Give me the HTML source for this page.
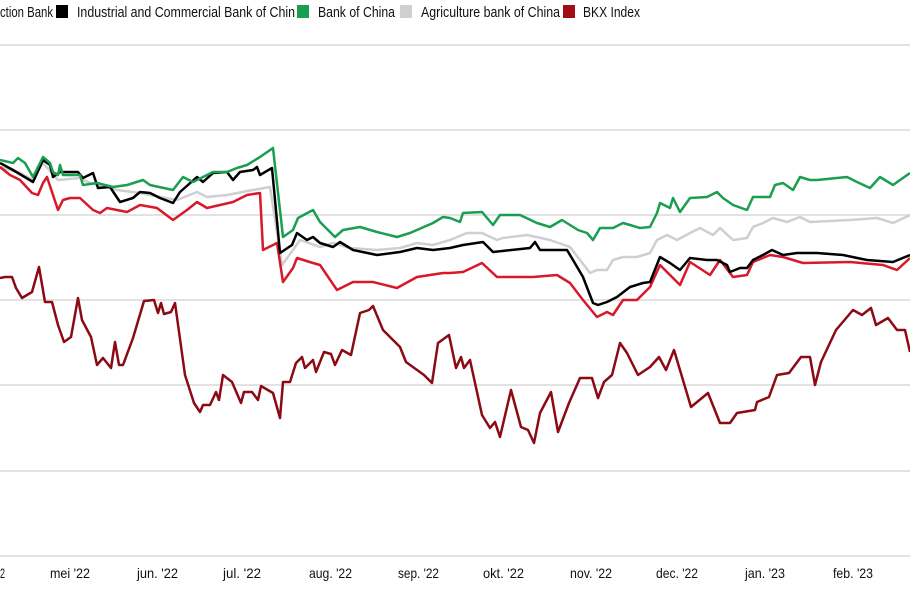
<!DOCTYPE html>
<html><head><meta charset="utf-8"><style>
html,body{margin:0;padding:0;background:#fff;}
svg{display:block;}
text{font-family:"Liberation Sans Narrow","Liberation Sans",sans-serif;fill:#111;}
</style></head><body>
<svg width="910" height="596" viewBox="0 0 910 596" xmlns="http://www.w3.org/2000/svg">
<g stroke="#e2e2e2" stroke-width="2">
<line x1="0" y1="45" x2="910" y2="45"/><line x1="0" y1="130" x2="910" y2="130"/>
<line x1="0" y1="215" x2="910" y2="215"/><line x1="0" y1="300" x2="910" y2="300"/>
<line x1="0" y1="385" x2="910" y2="385"/><line x1="0" y1="471" x2="910" y2="471"/>
<line x1="0" y1="556" x2="910" y2="556"/>
</g>
<g font-size="15">
<text x="0" y="17" textLength="53" lengthAdjust="spacingAndGlyphs">ction Bank</text>
<rect x="56" y="5" width="12" height="13" fill="#000"/>
<text x="77" y="17" textLength="218" lengthAdjust="spacingAndGlyphs">Industrial and Commercial Bank of Chin</text>
<rect x="297" y="5" width="12" height="13" fill="#1a9e4f"/>
<text x="318" y="17" textLength="77" lengthAdjust="spacingAndGlyphs">Bank of China</text>
<rect x="400" y="5" width="12" height="13" fill="#cfcfcf"/>
<text x="421" y="17" textLength="139" lengthAdjust="spacingAndGlyphs">Agriculture bank of China</text>
<rect x="563" y="5" width="12" height="13" fill="#a00d12"/>
<text x="583" y="17" textLength="57" lengthAdjust="spacingAndGlyphs">BKX Index</text>
</g>
<g font-size="14">
<text x="0" y="578" textLength="5" lengthAdjust="spacingAndGlyphs">2</text>
<text x="50" y="578" textLength="40" lengthAdjust="spacingAndGlyphs">mei '22</text>
<text x="137" y="578" textLength="41" lengthAdjust="spacingAndGlyphs">jun. '22</text>
<text x="223" y="578" textLength="38" lengthAdjust="spacingAndGlyphs">jul. '22</text>
<text x="309" y="578" textLength="43" lengthAdjust="spacingAndGlyphs">aug. '22</text>
<text x="398" y="578" textLength="41" lengthAdjust="spacingAndGlyphs">sep. '22</text>
<text x="483" y="578" textLength="41" lengthAdjust="spacingAndGlyphs">okt. '22</text>
<text x="570" y="578" textLength="42" lengthAdjust="spacingAndGlyphs">nov. '22</text>
<text x="656" y="578" textLength="42" lengthAdjust="spacingAndGlyphs">dec. '22</text>
<text x="745" y="578" textLength="40" lengthAdjust="spacingAndGlyphs">jan. '23</text>
<text x="833" y="578" textLength="40" lengthAdjust="spacingAndGlyphs">feb. '23</text>
</g>
<g fill="none" stroke-width="2.5" stroke-linejoin="round">
<polyline stroke="#8b0a14" points="0,278 5,277 12,277 16,288 22,298 32,292 39,267 45,302 52,302 58,325 64,342 71,337 78,298 82,320 91,337 97,365 103,358 111,368 115,342 119,365 123,365 133,338 144,301 154,300 158,313 161,303 164,314 171,312 175,303 185,375 194,403 200,412 203,405 210,405 216,392 219,400 223,375 232,382 241,403 244,392 252,392 258,400 261,386 273,393 280,418 283,382 290,382 296,363 302,357 305,368 313,360 316,372 324,352 331,354 335,365 342,350 351,355 360,313 369,310 373,306 383,330 400,347 406,362 424,375 432,383 438,343 449,335 456,368 461,357 464,368 470,360 482,415 490,428 495,422 500,437 511,390 521,427 528,430 534,443 540,413 551,392 558,432 569,403 580,378 592,378 598,398 604,382 612,375 620,343 627,353 638,375 650,367 659,357 666,370 674,350 691,407 708,393 720,423 730,423 737,413 755,410 757,402 769,397 777,375 789,373 801,357 810,357 815,385 821,362 836,330 853,310 862,315 871,308 876,325 888,318 897,330 905,330 910,352"/>
<polyline stroke="#cfcfcf" points="0,167 20,173 33,180 43,163 58,180 80,178 90,183 100,185 117,190 140,193 160,197 177,200 197,192 207,197 227,195 253,190 270,187 282,265 293,250 300,240 320,247 333,243 350,248 377,250 400,248 417,243 433,245 450,240 467,233 482,233 497,240 503,238 527,235 550,240 570,247 580,260 590,273 597,270 607,270 613,260 623,257 637,257 650,253 657,240 667,235 677,240 690,233 700,228 713,235 720,228 733,240 747,238 753,227 763,223 773,218 787,222 800,217 810,222 850,220 877,218 893,223 910,215"/>
<polyline stroke="#d7192a" points="0,167 10,175 20,180 32,193 38,195 43,183 47,177 58,210 63,200 70,198 80,198 93,210 100,213 107,208 127,212 140,205 157,208 173,220 187,210 197,202 207,208 220,205 233,202 247,195 260,193 263,250 277,243 283,282 293,268 297,258 313,263 320,265 337,290 353,282 373,282 397,288 417,277 443,273 450,273 463,272 482,263 497,277 533,277 557,275 570,283 583,300 597,317 607,312 613,315 623,300 637,300 650,287 660,265 670,275 680,285 690,262 710,275 720,260 733,277 747,275 753,262 770,255 783,257 803,263 850,262 883,265 897,270 910,258"/>
<polyline stroke="#000" points="0,163 13,170 33,182 43,160 50,165 53,177 60,172 78,172 83,178 93,173 98,188 110,187 120,202 133,198 140,192 150,193 160,198 173,203 180,192 197,177 203,182 213,173 227,172 233,180 240,172 253,170 257,167 260,175 272,168 280,253 292,245 297,233 307,240 313,237 320,243 333,247 340,242 353,250 377,255 400,252 417,248 433,250 450,248 463,245 483,242 493,252 530,248 535,242 540,250 567,250 573,260 583,277 593,303 598,305 607,302 617,297 630,287 643,283 650,282 660,257 670,263 680,270 690,258 707,260 717,260 727,265 730,272 740,268 747,268 753,260 763,255 772,250 783,255 797,253 817,253 843,255 867,260 893,262 910,255"/>
<polyline stroke="#1a9e4f" points="0,160 13,163 18,158 25,163 33,177 43,157 50,163 53,172 58,175 60,165 63,175 80,175 83,185 97,183 113,187 127,185 143,180 150,185 173,190 183,177 193,182 203,177 213,172 227,172 237,168 247,165 260,157 273,148 283,237 293,230 298,218 313,210 320,222 335,237 343,230 360,227 377,232 397,237 410,233 433,223 443,217 450,218 460,222 463,213 482,212 493,225 500,215 520,215 537,223 550,227 562,220 578,230 587,233 593,240 600,228 613,228 623,223 630,225 640,228 650,227 657,213 660,203 670,208 673,198 680,212 690,198 707,197 717,192 723,198 733,205 747,210 753,197 770,197 775,185 783,183 793,190 800,177 810,180 817,180 847,177 857,182 870,188 880,177 893,185 910,173"/>
</g>
</svg>
</body></html>
